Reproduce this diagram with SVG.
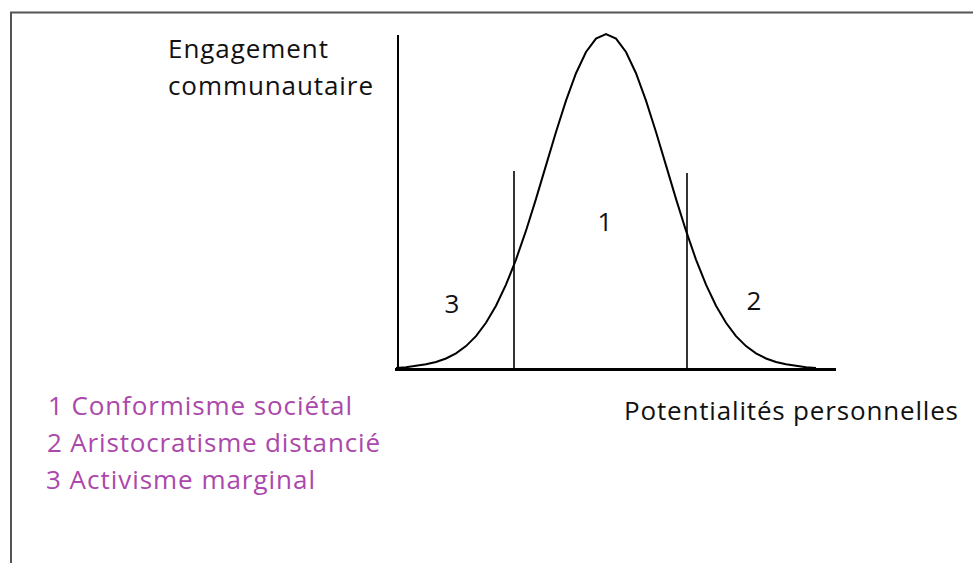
<svg xmlns="http://www.w3.org/2000/svg" width="973" height="563" viewBox="0 0 973 563">
<style>
.t{font-family:"Open Sans","Noto Sans","Liberation Sans",sans-serif;font-size:26px;fill:#111}
.p{fill:#AB48AB}
.ln{stroke:#000;fill:none}
</style>
<rect x="0" y="0" width="973" height="563" fill="#fff"/>
<g id="frame">
<path d="M11,563 V12.5 H973" fill="none" stroke="#555" stroke-width="2"/>
</g>
<g id="connectors">
<line class="ln" x1="398" y1="35" x2="398" y2="370" stroke-width="2"/>
<line class="ln" x1="395" y1="369.5" x2="836" y2="369.5" stroke-width="3"/>
<line class="ln" x1="514" y1="171" x2="514" y2="370" stroke-width="1.6"/>
<line class="ln" x1="687" y1="173" x2="687" y2="370" stroke-width="1.6"/>
<path class="ln" stroke-width="2" d="M396,368 L406,367.3 L416,365.8 L426,364.3 L436,362 L446,358.5 L456,353.3 L466,346.1 L476,336.1 L486,322.8 L496,305.8 L506,284.7 L516,259.6 L526,230.7 L536,198.9 L546,165.4 L556,132 L566,100.6 L576,73.2 L586,52 L596,38.6 L606,34 L616,38.6 L626,52 L636,73.2 L646,100.6 L656,132 L666,165.4 L676,198.9 L686,230.7 L696,259.6 L706,284.7 L716,305.8 L726,322.8 L736,336.1 L746,346.1 L756,353.3 L766,358.5 L776,362 L786,364.3 L796,365.8 L806,367.3 L816,368"/>
</g>
<g id="y-label">
<text class="t" x="168" y="58" textLength="160" lengthAdjust="spacing">Engagement</text>
<text class="t" x="168" y="95" textLength="205" lengthAdjust="spacing">communautaire</text>
</g>
<g id="x-label">
<text class="t" x="624" y="420" textLength="334" lengthAdjust="spacing">Potentialités personnelles</text>
</g>
<g id="zone-1"><text class="t" x="605" y="231" text-anchor="middle">1</text></g>
<g id="zone-2"><text class="t" x="754" y="310" text-anchor="middle">2</text></g>
<g id="zone-3"><text class="t" x="452" y="313" text-anchor="middle">3</text></g>
<g id="legend">
<text class="t p" x="48" y="415" textLength="304" lengthAdjust="spacing">1 Conformisme sociétal</text>
<text class="t p" x="47" y="452" textLength="333" lengthAdjust="spacing">2 Aristocratisme distancié</text>
<text class="t p" x="46" y="489" textLength="269" lengthAdjust="spacing">3 Activisme marginal</text>
</g>
</svg>
